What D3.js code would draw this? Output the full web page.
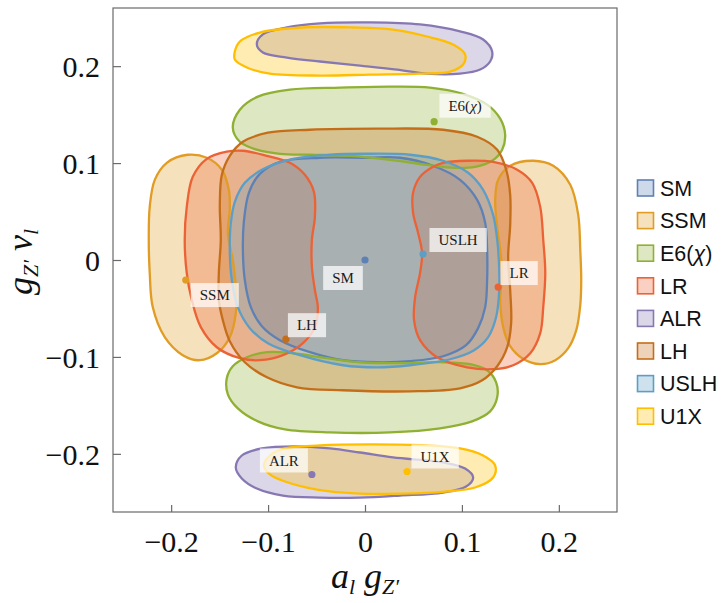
<!DOCTYPE html>
<html>
<head>
<meta charset="utf-8">
<script src="https://cdn.jsdelivr.net/npm/d3@7"></script>
<style>
  html, body { margin: 0; padding: 0; background: #fff; }
  svg { display: block; }
</style>
</head>
<body>
<svg id="chart" width="722" height="603"></svg>
<script>
// Model names, in legend order
const models = ["SM", "SSM", "E6(χ)", "LR", "ALR", "LH", "USLH", "U1X"];

// Best-fit point of each model (a_l g_Z', g_Z' v_l)
const centerA = [0, -0.1849, 0.0713, 0.1374, -0.0548, -0.0816, 0.0599, 0.0434];
const centerV = [0, -0.0207, 0.1427, -0.0279, -0.2213, -0.0817, 0.0062, -0.2182];

// Axis ticks
const xTickValues = [-0.2, -0.1, 0, 0.1, 0.2];
const yTickValues = [-0.2, -0.1, 0, 0.1, 0.2];

// Allowed-region outlines, [a_l g_Z', g_Z' v_l]
const smOutline = [[0,0.1055],[0.0362,0.1055],[0.0702,0.0972],[0.0981,0.0827],[0.1157,0.062],[0.124,0.0383],[0.126,0.0103],[0.126,-0.0207],[0.124,-0.0486],[0.1167,-0.0703],[0.1043,-0.0879],[0.0806,-0.0993],[0.0465,-0.1044],[0.0124,-0.1055],[-0.0227,-0.1034],[-0.0568,-0.0951],[-0.0878,-0.0827],[-0.1064,-0.0683],[-0.1178,-0.0486],[-0.124,-0.0207],[-0.126,0.0103],[-0.125,0.0393],[-0.1198,0.0693],[-0.1085,0.0889],[-0.0878,0.1013],[-0.0465,0.1055]];

const ssmLeft = [[-0.1829,0.1086],[-0.1632,0.1055],[-0.1477,0.0931],[-0.1405,0.0724],[-0.1395,0.0517],[-0.1415,0.0279],[-0.1364,0],[-0.1333,-0.0279],[-0.1333,-0.0548],[-0.1395,-0.0796],[-0.1529,-0.0962],[-0.1705,-0.1034],[-0.188,-0.0982],[-0.2066,-0.0796],[-0.219,-0.0486],[-0.2221,-0.0134],[-0.2231,0.0207],[-0.2221,0.0548],[-0.2169,0.0827],[-0.2045,0.1003]];
const ssmRight = [[0.1736,0.1024],[0.1942,0.0972],[0.2118,0.0776],[0.22,0.0465],[0.2221,0.0103],[0.2231,-0.0207],[0.2221,-0.0465],[0.218,-0.0724],[0.2097,-0.091],[0.1963,-0.1034],[0.1808,-0.1075],[0.1622,-0.1013],[0.1498,-0.0889],[0.1426,-0.0693],[0.1395,-0.0414],[0.1415,-0.0134],[0.1395,0.0103],[0.1364,0.0341],[0.1343,0.062],[0.1374,0.0827],[0.1498,0.0972]];

const e6Top = [[-0.1364,0.1365],[-0.1291,0.1551],[-0.1105,0.1686],[-0.0775,0.1758],[-0.0258,0.1779],[0.0258,0.1789],[0.0671,0.1779],[0.1002,0.1717],[0.126,0.1603],[0.1395,0.1458],[0.1446,0.1293],[0.1415,0.1138],[0.1312,0.1024],[0.1136,0.0962],[0.093,0.0951],[0.064,0.0982],[0.0258,0.1034],[-0.0155,0.1075],[-0.0568,0.1086],[-0.0878,0.1096],[-0.1116,0.1138],[-0.1291,0.122]];
const e6Bottom = [[-0.1426,-0.122],[-0.1364,-0.1096],[-0.1219,-0.1003],[-0.1012,-0.0951],[-0.0744,-0.0962],[-0.0393,-0.1013],[-0.0052,-0.1055],[0.0362,-0.1065],[0.0806,-0.1055],[0.1085,-0.1075],[0.126,-0.1138],[0.1353,-0.1262],[0.1364,-0.1417],[0.1291,-0.1562],[0.1105,-0.1665],[0.0775,-0.1737],[0.0258,-0.1779],[-0.0362,-0.1779],[-0.0826,-0.1748],[-0.1105,-0.1665],[-0.1312,-0.1531],[-0.1415,-0.1386]];

const lrLeft = [[-0.1426,0.1117],[-0.126,0.1127],[-0.1012,0.1075],[-0.0775,0.1003],[-0.062,0.0879],[-0.0527,0.0703],[-0.0517,0.0445],[-0.0548,0.0207],[-0.0548,-0.0072],[-0.0517,-0.031],[-0.0486,-0.0496],[-0.0517,-0.0693],[-0.064,-0.0858],[-0.0847,-0.0982],[-0.1085,-0.1034],[-0.1291,-0.1013],[-0.1529,-0.09],[-0.1694,-0.0693],[-0.1787,-0.0414],[-0.1839,-0.0134],[-0.186,0.0207],[-0.1839,0.0548],[-0.1777,0.0858],[-0.1632,0.1044]];
const lrRight = [[0.0806,0.1003],[0.1054,0.1024],[0.1322,0.1013],[0.157,0.0931],[0.1725,0.0796],[0.1808,0.0548],[0.1839,0.0207],[0.186,-0.0134],[0.1839,-0.0486],[0.1808,-0.0755],[0.1705,-0.0962],[0.1529,-0.1086],[0.1322,-0.1127],[0.1054,-0.1107],[0.0744,-0.1003],[0.0568,-0.0827],[0.0506,-0.062],[0.0517,-0.0383],[0.0568,-0.0134],[0.0589,0.0072],[0.0548,0.0279],[0.0496,0.0486],[0.0496,0.0693],[0.0568,0.0858],[0.0702,0.0962]];

const alrTop = [[-0.1116,0.2223],[-0.1054,0.2327],[-0.0806,0.2399],[-0.0465,0.2441],[0.0052,0.2451],[0.0568,0.243],[0.0981,0.2358],[0.1219,0.2275],[0.1312,0.2151],[0.1291,0.2048],[0.1188,0.1965],[0.0981,0.1923],[0.064,0.1923],[0.0331,0.1965],[-0.0052,0.2006],[-0.0465,0.2048],[-0.0806,0.2089],[-0.1054,0.2141]];
const alrBottom = [[-0.1333,-0.2141],[-0.1271,-0.2017],[-0.1064,-0.1944],[-0.0723,-0.1923],[-0.0362,-0.1944],[-0.0052,-0.1986],[0.0289,-0.2037],[0.0806,-0.2089],[0.1033,-0.2151],[0.1116,-0.2244],[0.1043,-0.2337],[0.0806,-0.2399],[0.0362,-0.243],[-0.0052,-0.2451],[-0.0465,-0.2451],[-0.0847,-0.243],[-0.1116,-0.2358],[-0.1271,-0.2254]];

const lhOutline = [[0.0124,0.1355],[0.0806,0.1344],[0.1157,0.1272],[0.1364,0.1138],[0.1457,0.0931],[0.1498,0.0672],[0.1498,0.0362],[0.1477,0.0031],[0.1498,-0.031],[0.1508,-0.0651],[0.1467,-0.09],[0.1364,-0.1096],[0.1209,-0.1241],[0.0981,-0.1324],[0.0465,-0.1355],[-0.0227,-0.1344],[-0.0702,-0.1313],[-0.1012,-0.121],[-0.124,-0.1055],[-0.1395,-0.0838],[-0.1467,-0.062],[-0.1508,-0.0414],[-0.1508,-0.0134],[-0.1488,0.0207],[-0.1498,0.0569],[-0.1477,0.0879],[-0.1395,0.1075],[-0.126,0.122],[-0.1002,0.1313],[-0.0568,0.1344]];

const uslhOutline = [[0,0.1096],[0.0465,0.1086],[0.0806,0.1024],[0.1064,0.09],[0.1219,0.0724],[0.1322,0.0465],[0.1364,0.0207],[0.1384,-0.0072],[0.1384,-0.0331],[0.1353,-0.0589],[0.1271,-0.0796],[0.1126,-0.0931],[0.0878,-0.1024],[0.0465,-0.1086],[0.0124,-0.1107],[-0.0227,-0.1086],[-0.0671,-0.0982],[-0.1002,-0.0858],[-0.1188,-0.0703],[-0.1312,-0.0486],[-0.1374,-0.0207],[-0.1395,0.0103],[-0.1384,0.0383],[-0.1343,0.06],[-0.124,0.0796],[-0.1064,0.0931],[-0.0744,0.1044],[-0.0362,0.1086]];

const u1xTop = [[-0.1343,0.2151],[-0.1291,0.2254],[-0.1085,0.2347],[-0.064,0.2399],[-0.0124,0.2399],[0.0289,0.2378],[0.064,0.2306],[0.0909,0.2223],[0.1033,0.212],[0.1012,0.2017],[0.0878,0.1944],[0.0568,0.1923],[0.0052,0.1913],[-0.0465,0.1903],[-0.0981,0.1923],[-0.1219,0.1986],[-0.1343,0.2068]];
const u1xBottom = [[-0.1043,-0.212],[-0.0981,-0.2017],[-0.0826,-0.1944],[-0.0465,-0.1913],[0.0052,-0.1903],[0.064,-0.1913],[0.0981,-0.1944],[0.1219,-0.2017],[0.1343,-0.212],[0.1322,-0.2244],[0.1136,-0.2347],[0.0826,-0.2389],[0.0362,-0.241],[-0.0052,-0.241],[-0.0496,-0.2368],[-0.0826,-0.2285],[-0.0981,-0.2213]];

// Regions per model, same order as `models`
const regions = [
  [smOutline],
  [ssmLeft, ssmRight],
  [e6Top, e6Bottom],
  [lrLeft, lrRight],
  [alrTop, alrBottom],
  [lhOutline],
  [uslhOutline],
  [u1xTop, u1xBottom]
];

// ---- styling ----
const palette = ["#5E81B5", "#E19C24", "#8FB032", "#EB6235", "#8778B3", "#C56E1A", "#5D9EC7", "#FFBF00"];
// label box offsets (px) from each best-fit point
const labelOffset = [[-22, 18], [29, 15], [31, -16], [21, -14], [-28, -14], [21, -14], [35, -14], [28, -15]];

const plot = { left: 113, right: 617, top: 8, bottom: 512 };

const svg = d3.select("#chart");

const x = d3.scaleLinear().domain([-0.26, 0.26]).range([plot.left, plot.right]);
const y = d3.scaleLinear().domain([-0.26, 0.26]).range([plot.bottom, plot.top]);

const line = d3.line()
  .x(d => x(d[0]))
  .y(d => y(d[1]))
  .curve(d3.curveCatmullRomClosed.alpha(0.5));

svg.append("clipPath").attr("id", "plotclip")
  .append("rect")
  .attr("x", plot.left).attr("y", plot.top)
  .attr("width", plot.right - plot.left).attr("height", plot.bottom - plot.top);

const body = svg.append("g").attr("clip-path", "url(#plotclip)");

// fills first, then all boundaries on top
const flat = [];
regions.forEach((parts, i) => parts.forEach(p => flat.push({ i, p })));

body.append("g").selectAll("path.fill")
  .data(flat)
  .join("path")
  .attr("class", "fill")
  .attr("d", d => line(d.p))
  .attr("fill", d => palette[d.i])
  .attr("fill-opacity", 0.3)
  .attr("stroke", "none");

body.append("g").selectAll("path.edge")
  .data(flat)
  .join("path")
  .attr("class", "edge")
  .attr("d", d => line(d.p))
  .attr("fill", "none")
  .attr("stroke", d => palette[d.i])
  .attr("stroke-width", 2.3)
  .attr("stroke-linejoin", "round");

// best-fit points
body.append("g").selectAll("circle")
  .data(models.map((m, i) => i))
  .join("circle")
  .attr("cx", i => x(centerA[i]))
  .attr("cy", i => y(centerV[i]))
  .attr("r", 3.6)
  .attr("fill", i => palette[i]);

// callout labels
const labelG = body.append("g")
  .attr("font-family", "'Liberation Serif', 'Times New Roman', serif")
  .attr("font-size", 15)
  .attr("fill", "#1a1a1a");

models.forEach((m, i) => {
  const cx = x(centerA[i]) + labelOffset[i][0];
  const cy = y(centerV[i]) + labelOffset[i][1];
  const g = labelG.append("g");
  const t = g.append("text")
    .attr("x", cx).attr("y", cy)
    .attr("text-anchor", "middle")
    .attr("dy", "0.35em");
  if (m === "E6(χ)") {
    t.append("tspan").text("E6(");
    t.append("tspan").attr("font-style", "italic").text("χ");
    t.append("tspan").text(")");
  } else {
    t.text(m);
  }
  const bb = t.node().getBBox();
  g.insert("rect", "text")
    .attr("x", bb.x - 9).attr("y", cy - 12)
    .attr("width", bb.width + 18).attr("height", 24)
    .attr("fill", "#fff")
    .attr("fill-opacity", 0.72);
});

// frame
svg.append("rect")
  .attr("x", plot.left).attr("y", plot.top)
  .attr("width", plot.right - plot.left).attr("height", plot.bottom - plot.top)
  .attr("fill", "none")
  .attr("stroke", "#6a6a6a")
  .attr("stroke-width", 1.2);

const fmt = d => d === 0 ? "0" : d3.format(".1f")(d);
const serif = "'Liberation Serif', 'Times New Roman', serif";

// left axis: ticks point into the plot
const yAxis = d3.axisLeft(y).tickValues(yTickValues).tickSize(-8).tickPadding(13).tickFormat(fmt);
const gy = svg.append("g").attr("transform", `translate(${plot.left},0)`).call(yAxis);
gy.select(".domain").remove();
gy.selectAll(".tick line").attr("stroke", "#6a6a6a").attr("stroke-width", 1.2);
gy.selectAll(".tick text")
  .attr("font-family", serif).attr("font-size", 30).attr("fill", "#111")
  .attr("dy", "0.34em");

// bottom axis
const xAxis = d3.axisBottom(x).tickValues(xTickValues).tickSize(-7).tickPadding(19).tickFormat(fmt);
const gx = svg.append("g").attr("transform", `translate(0,${plot.bottom})`).call(xAxis);
gx.select(".domain").remove();
gx.selectAll(".tick line").attr("stroke", "#6a6a6a").attr("stroke-width", 1.2);
gx.selectAll(".tick text")
  .attr("font-family", serif).attr("font-size", 30).attr("fill", "#111");

// axis titles
const xt = svg.append("text")
  .attr("x", (plot.left + plot.right) / 2).attr("y", 588)
  .attr("text-anchor", "middle")
  .attr("font-family", serif).attr("font-style", "italic")
  .attr("font-size", 36).attr("fill", "#111");
xt.append("tspan").text("a");
xt.append("tspan").attr("font-size", 22).attr("dy", 6).text("l");
xt.append("tspan").attr("dy", -6).text(" g");
xt.append("tspan").attr("font-size", 22).attr("dy", 6).text("Z′");

const yt = svg.append("text")
  .attr("transform", `translate(32,${(plot.top + plot.bottom) / 2 + 2}) rotate(-90)`)
  .attr("text-anchor", "middle")
  .attr("font-family", serif).attr("font-style", "italic")
  .attr("font-size", 36).attr("fill", "#111");
yt.append("tspan").text("g");
yt.append("tspan").attr("font-size", 22).attr("dy", 6).text("Z′");
yt.append("tspan").attr("dy", -6).text(" v");
yt.append("tspan").attr("font-size", 22).attr("dy", 6).text("l");

// legend
const legend = svg.append("g")
  .attr("font-family", "'Liberation Sans', Arial, sans-serif")
  .attr("font-size", 21.5)
  .attr("fill", "#111");

models.forEach((m, i) => {
  const cy = 188 + i * 32.6;
  legend.append("rect")
    .attr("x", 637.5).attr("y", cy - 8)
    .attr("width", 16).attr("height", 16)
    .attr("fill", d3.color(palette[i]).copy({ opacity: 0.3 }))
    .attr("stroke", palette[i])
    .attr("stroke-width", 1.6);
  const t = legend.append("text")
    .attr("x", 660).attr("y", cy).attr("dy", "0.36em");
  if (m === "E6(χ)") {
    t.append("tspan").text("E6(");
    t.append("tspan").attr("font-style", "italic").text("χ");
    t.append("tspan").text(")");
  } else {
    t.text(m);
  }
});
</script>
</body>
</html>
